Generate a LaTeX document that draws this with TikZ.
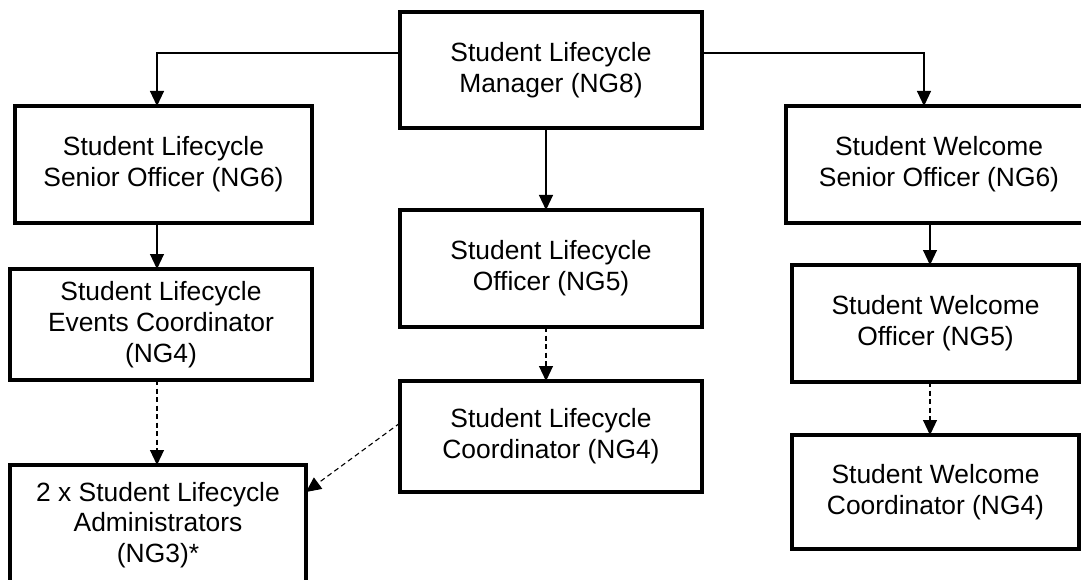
\documentclass[tikz,border=0pt]{standalone}
\usepackage{fontspec}
\setmainfont{Liberation Sans}
\usepackage{tikz}
\usetikzlibrary{arrows.meta,
                calc,
                positioning}

\tikzset{
	box/.style={draw, line width=3.2pt, align=center, inner sep=0pt, outer sep=0pt,
		font=\fontsize{26.4}{30.7}\selectfont},
	link/.style={line width=1.1pt, -{Triangle[length=15pt,width=14pt]}},
	dlink/.style={link, dash pattern=on 5pt off 3.5pt}
}

\begin{document}
\begin{tikzpicture}[x=1pt, y=-1pt]
	\useasboundingbox (0,0) rectangle (1081,580);
		\node [box, minimum width=302pt, minimum height=116pt] (mgr) at (551,70) {Student Lifecycle\\Manager (NG8)};
		% left column
		\node [box, minimum width=297pt, minimum height=117pt] (lso) at (163.5,164.5) {Student Lifecycle\\Senior Officer (NG6)};
		\node [box, minimum width=302pt, minimum height=111pt, below=46pt of lso, xshift=-2.5pt] (lec) {Student Lifecycle\\Events Coordinator\\(NG4)};
		\node [box, minimum width=296pt, minimum height=120pt, below=85pt of lec, xshift=-3pt] (ladm) {2 x Student Lifecycle\\Administrators\\(NG3)*};
		% middle column
		\node [box, minimum width=302pt, minimum height=117pt, below=82pt of mgr] (mo) {Student Lifecycle\\Officer (NG5)};
		\node [box, minimum width=302pt, minimum height=111pt, below=54pt of mo] (mc) {Student Lifecycle\\Coordinator (NG4)};
		% right column
		\node [box, minimum width=306pt, minimum height=117pt] (rso) at (939,164.5) {Student Welcome\\Senior Officer (NG6)};
		\node [box, minimum width=287pt, minimum height=117pt, below=42pt of rso, xshift=-3.5pt] (rwo) {Student Welcome\\Officer (NG5)};
		\node [box, minimum width=287pt, minimum height=114pt, below=53pt of rwo] (rwc) {Student Welcome\\Coordinator (NG4)};

		\coordinate (lbend) at (157,53);
		\coordinate (rbend) at (924,53);
		\coordinate (rcol) at (930,250);

		\draw [link] (mgr.west |- lbend) -- (lbend) -- (lbend |- lso.north);
		\draw [link] (mgr.east |- rbend) -- (rbend) -- (rbend |- rso.north);
		\draw [link] ([xshift=-5pt]mgr.south) -- ([xshift=-5pt]mo.north);
		\draw [link] (lso.south -| lbend) -- (lec.north -| lbend);
		\draw [link] (rso.south -| rcol) -- (rwo.north -| rcol);
		\draw [dlink] (lec.south -| lbend) -- (ladm.north -| lbend);
		\draw [dlink] ([xshift=-5pt]mo.south) -- ([xshift=-5pt]mc.north);
		\draw [dlink] ([yshift=13.5pt]mc.west) -- ([yshift=-27pt]ladm.north east);
		\draw [dlink] (rwo.south -| rcol) -- (rwc.north -| rcol);
\end{tikzpicture}
\end{document}
